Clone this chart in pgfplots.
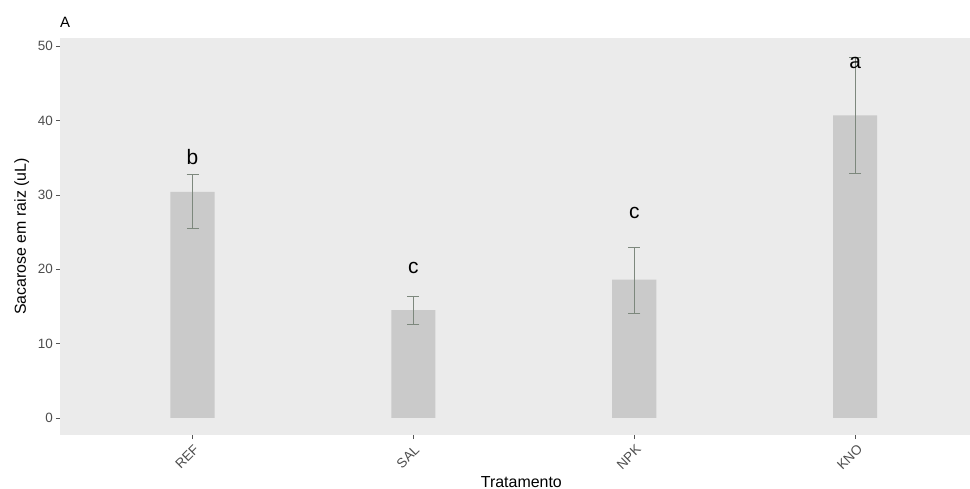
\documentclass[border=0pt]{standalone}
\usepackage{fontspec}
\setmainfont{Liberation Sans}
\usepackage{pgfplots}
\pgfplotsset{compat=1.18}
\usepackage{pgfplotstable}
\definecolor{panelbg}{HTML}{EBEBEB}
\definecolor{barfill}{HTML}{CACACA}
\definecolor{errcol}{HTML}{7D887D}
\definecolor{ticktext}{HTML}{4D4D4D}
\definecolor{tickcol}{HTML}{555555}

\pgfplotstableread{
x y ep em
1 30.4 2.4 4.9
2 14.5 1.9 1.9
3 18.6 4.4 4.5
4 40.7 7.8 7.8
}\datatable
\pgfplotstableread{
x y lab
1 35.1 b
2 20.2 c
3 27.6 c
4 47.8 a
}\labtable

\begin{document}
\begin{tikzpicture}
\begin{axis}[
  scale only axis, width=910bp, height=397bp,
  xmin=0.4, xmax=4.52, ymin=-2.3, ymax=51.1,
  axis background/.style={fill=panelbg},
  axis line style={draw=none},
  tick pos=left, tick align=outside, major tick length=4bp,
  tick style={draw=tickcol, line width=0.7bp},
  xtick={1,2,3,4}, xticklabels={REF,SAL,NPK,KNO},
  ytick={0,10,20,30,40,50},
  /pgf/number format/assume math mode=true,
  yticklabel style={font=\fontsize{13.5}{14}\selectfont, text=ticktext, anchor=east, inner sep=0pt, xshift=-3bp},
  xticklabel style={font=\fontsize{13.5}{14}\selectfont, text=ticktext, anchor=center, inner sep=0pt, xshift=-5.5bp, yshift=-18bp, rotate=45},
  xlabel={Tratamento}, ylabel={Sacarose em raiz (uL)},
  every axis x label/.style={at={(axis description cs:0.507,-0.118)}, anchor=center, inner sep=0pt, font=\fontsize{16}{18}\selectfont},
  every axis y label/.style={at={(axis description cs:-0.042,0.5)}, rotate=90, anchor=center, inner sep=0pt, font=\fontsize{16}{18}\selectfont},
  title={A},
  every axis title/.style={at={(axis description cs:0,1)}, anchor=base west, yshift=10bp, inner sep=0pt, font=\fontsize{15}{17}\selectfont},
]
\addplot[ybar, bar width=0.2, fill=barfill, draw=none]
  table[x=x, y=y]{\datatable};
\addplot[draw=none, mark=none,
  error bars/.cd, y dir=both, y explicit, error mark=|,
  error bar style={draw=errcol, line width=0.8bp},
  error mark options={draw=errcol, mark size=6bp, line width=0.8bp}]
  table[x=x, y=y, y error plus=ep, y error minus=em]{\datatable};
\addplot[draw=none, mark=none, nodes near coords, point meta=explicit symbolic,
  every node near coord/.append style={anchor=center, inner sep=0pt, text=black, font=\fontsize{21}{21}\selectfont}]
  table[x=x, y=y, meta=lab]{\labtable};
\coordinate (P) at (rel axis cs:0,0);
\end{axis}
\pgfresetboundingbox
\path ([shift={(-60bp,-54bp)}]P) rectangle ([shift={(910bp,435bp)}]P);
\end{tikzpicture}
\end{document}
